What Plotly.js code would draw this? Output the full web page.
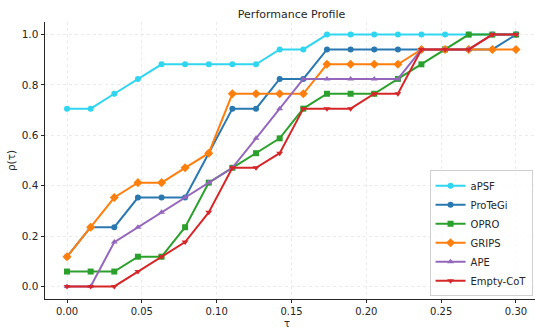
<!DOCTYPE html>
<html>
<head>
<meta charset="utf-8">
<script src="https://cdn.plot.ly/plotly-3.0.1.min.js"></script>
<style>html,body{margin:0;padding:0;background:#fff;}#chart{width:535px;height:329px;}</style>
</head>
<body>
<div id="chart"></div>
<script>
const tau = [0.0000, 0.0158, 0.0316, 0.0474, 0.0632, 0.0789, 0.0947, 0.1105, 0.1263, 0.1421,
             0.1579, 0.1737, 0.1895, 0.2053, 0.2211, 0.2368, 0.2526, 0.2684, 0.2842, 0.3000];
const aPSF     = [0.706,0.706,0.765,0.824,0.882,0.882,0.882,0.882,0.882,0.941,0.941,1.0,1.0,1.0,1.0,1.0,1.0,1.0,1.0,1.0];
const ProTeGi  = [0.118,0.235,0.235,0.353,0.353,0.353,0.529,0.706,0.706,0.824,0.824,0.941,0.941,0.941,0.941,0.941,0.941,0.941,0.941,1.0];
const OPRO     = [0.059,0.059,0.059,0.118,0.118,0.235,0.412,0.471,0.529,0.588,0.706,0.765,0.765,0.765,0.824,0.882,0.941,1.0,1.0,1.0];
const GRIPS    = [0.118,0.235,0.353,0.412,0.412,0.471,0.529,0.765,0.765,0.765,0.765,0.882,0.882,0.882,0.882,0.941,0.941,0.941,0.941,0.941];
const APE      = [0.0,0.0,0.176,0.235,0.294,0.353,0.412,0.471,0.588,0.706,0.824,0.824,0.824,0.824,0.824,0.941,0.941,0.941,1.0,1.0];
const EmptyCoT = [0.0,0.0,0.0,0.059,0.118,0.176,0.294,0.471,0.471,0.529,0.706,0.706,0.706,0.765,0.765,0.941,0.941,0.941,1.0,1.0];

const seriesNames = ['aPSF','ProTeGi','OPRO','GRIPS','APE','Empty-CoT'];
const seriesVals = [aPSF, ProTeGi, OPRO, GRIPS, APE, EmptyCoT];
const colors = ['#30d5f0','#2a78b0','#2ca02c','#ff7f0e','#9467bd','#d62728'];
const symbols = ['circle','circle','square','diamond','triangle-up','triangle-down'];

const traces = seriesNames.map((n,i)=>({
  x: tau, y: seriesVals[i], name: n, type: 'scatter', mode: 'lines+markers',
  line: {color: colors[i], width: 2},
  marker: {color: colors[i], symbol: symbols[i], size: symbols[i]==='diamond'?7:6}
}));

const tickFont = {family: 'DejaVu Sans', size: 10.5, color: '#262626'};
const layout = {
  width: 535, height: 329,
  margin: {l: 45, r: 0, t: 22, b: 30},
  paper_bgcolor: '#ffffff', plot_bgcolor: '#ffffff',
  font: {family: 'DejaVu Sans', size: 10, color: '#262626'},
  title: {text: 'Performance Profile', font: {family: 'DejaVu Sans', size: 11, color: '#262626'}, x: 0.545, xanchor: 'center', y: 0.97, yanchor: 'top'},
  xaxis: {
    range: [-0.0147, 0.3127], tickvals: [0,0.05,0.1,0.15,0.2,0.25,0.3], tickformat: '.2f',
    tickfont: {family: 'DejaVu Sans', size: 10, color: '#262626'}, automargin: false,
    showgrid: true, gridcolor: '#e6e6e6', griddash: 'dot', gridwidth: 0.8,
    zeroline: false, showline: true, linecolor: '#262626', linewidth: 1,
    ticks: 'outside', ticklen: 3, tickcolor: '#262626'
  },
  yaxis: {
    range: [-0.05, 1.05], tickvals: [0,0.2,0.4,0.6,0.8,1.0], tickformat: '.1f',
    tickfont: tickFont, automargin: false,
    showgrid: true, gridcolor: '#e6e6e6', griddash: 'dot', gridwidth: 0.8,
    zeroline: false, showline: true, linecolor: '#262626', linewidth: 1,
    ticks: 'outside', ticklen: 3.5, tickcolor: '#262626',
    title: {text: 'ρ(τ)', font: {family: 'DejaVu Sans', size: 10.5, color: '#262626'}, standoff: 4}
  },
  annotations: [{
    text: 'τ', xref: 'paper', yref: 'paper', x: 0.494, y: 0, xanchor: 'center', yanchor: 'top',
    yshift: -17, showarrow: false, font: {family: 'DejaVu Sans', size: 10, color: '#262626'}
  }],
  legend: {
    x: 0.995, y: 0.01, xanchor: 'right', yanchor: 'bottom',
    bgcolor: 'rgba(255,255,255,0.85)', bordercolor: '#d0d0d0', borderwidth: 1,
    font: {family: 'DejaVu Sans', size: 10, color: '#262626'},
    tracegroupgap: 0, itemwidth: 30
  },
  showlegend: true
};
Plotly.newPlot('chart', traces, layout, {staticPlot: true, displayModeBar: false});
</script>
</body>
</html>
